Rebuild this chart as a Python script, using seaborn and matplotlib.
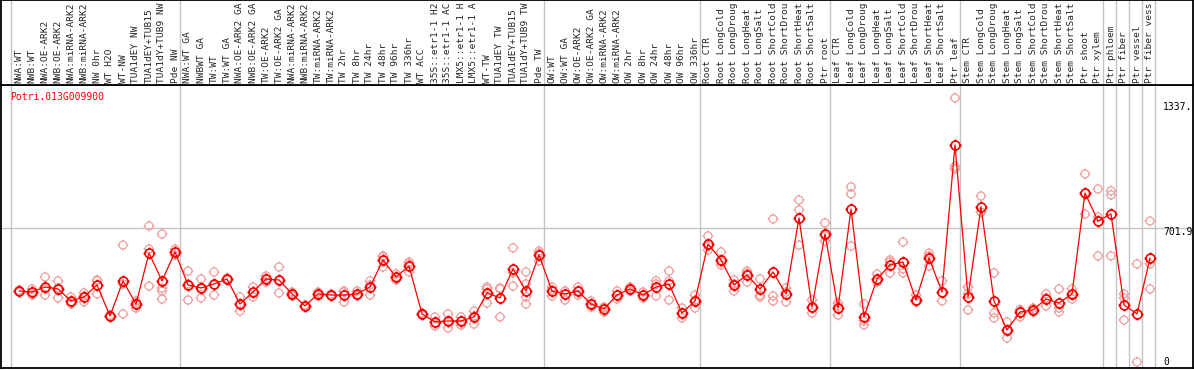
import numpy as np
import pandas as pd
import matplotlib.pyplot as plt
import matplotlib.transforms as mtransforms
from matplotlib.path import Path
import seaborn as sns

# ---- data ----
gene = "Potri.013G009900"

# sample names as the reference prints them (cut to 14 characters)
labels = [
    "NWA:WT", "NWB:WT", "NWA:OE-ARK2", "NWB:OE-ARK2", "NWA:miRNA-ARK2",
    "NWB:miRNA-ARK2", "NW 0hr", "WT H2O", "WT-NW", "TUA1dEY NW",
    "TUA1dEY+TUB15", "TUA1dY+TUB9 NW", "Pde NW",
    "NWA:WT GA", "NWBWT GA", "TW:WT", "TW:WT GA", "NWA:OE-ARK2 GA",
    "NWB:OE-ARK2 GA", "TW:OE-ARK2", "TW:OE-ARK2 GA", "NWA:miRNA-ARK2",
    "NWB:miRNA-ARK2", "TW:miRNA-ARK2", "TW:miRNA-ARK2", "TW 2hr", "TW 8hr",
    "TW 24hr", "TW 48hr", "TW 96hr", "TW 336hr", "WT ACC", "35S::etr1-1 H2",
    "35S::etr1-1 AC", "LMX5::etr1-1 H", "LMX5::etr1-1 A", "WT-TW",
    "TUA1dEY TW", "TUA1dEY+TUB15", "TUA1dY+TUB9 TW", "Pde TW",
    "OW:WT", "OW:WT GA", "OW:OE-ARK2", "OW:OE-ARK2 GA", "OW:miRNA-ARK2",
    "OW:miRNA-ARK2", "OW 2hr", "OW 8hr", "OW 24hr", "OW 48hr", "OW 96hr",
    "OW 336hr",
    "Root CTR", "Root LongCold", "Root LongDroug", "Root LongHeat",
    "Root LongSalt", "Root ShortCold", "Root ShortDrou", "Root ShortHeat",
    "Root ShortSalt", "Ptr root",
    "Leaf CTR", "Leaf LongCold", "Leaf LongDroug", "Leaf LongHeat",
    "Leaf LongSalt", "Leaf ShortCold", "Leaf ShortDrou", "Leaf ShortHeat",
    "Leaf ShortSalt", "Ptr leaf",
    "Stem CTR", "Stem LongCold", "Stem LongDroug", "Stem LongHeat",
    "Stem LongSalt", "Stem ShortCold", "Stem ShortDrou", "Stem ShortHeat",
    "Stem ShortSalt", "Ptr shoot", "Ptr xylem",
    "Ptr phloem", "Ptr fiber", "Ptr vessel", "Ptr fiber vess",
]

# number of samples in each boxed group
group_sizes = [13, 28, 12, 10, 10, 11, 1, 1, 1, 1]

means = [
    372, 367, 393, 383, 320, 341, 404, 241, 425, 304,
    571, 425, 577, 404, 388, 409, 435, 304, 367, 435,
    430, 357, 294, 357, 351, 351, 357, 393, 535, 446,
    503, 252, 210, 215, 215, 236, 362, 336, 488, 372,
    561, 372, 357, 372, 304, 278, 351, 383, 351, 393,
    409, 257, 320, 619, 535, 404, 456, 383, 472, 357,
    755, 288, 671, 283, 802, 236, 435, 509, 524, 325,
    545, 367, 1138, 341, 813, 320, 168, 262, 273, 330,
    309, 357, 886, 739, 776, 299, 252, 545,
]

replicates = [
    [372, 377, 367], [383, 351, 367], [446, 351, 383], [425, 336, 388],
    [341, 304, 315], [362, 315, 346], [425, 357, 430], [241, 246, 236],
    [613, 252, 409], [320, 283, 309],
    [592, 398, 713], [671, 388, 372, 330], [592, 577, 561], [477, 325, 409],
    [435, 336, 393], [472, 351, 404], [435, 430, 440], [341, 267, 304],
    [393, 341, 367], [419, 435, 451],
    [498, 362, 430], [346, 357, 367], [299, 294, 289], [367, 357, 346],
    [351, 346, 356], [372, 315, 367], [372, 346, 352], [425, 351, 404],
    [556, 498, 551], [430, 446, 462],
    [524, 472, 514], [252, 247, 257], [236, 189, 205], [252, 178, 215],
    [236, 194, 215], [267, 199, 241], [393, 309, 383], [388, 236, 383],
    [598, 398, 467], [472, 409, 341, 304],
    [582, 530, 571], [393, 346, 377], [325, 372, 372], [393, 372, 351],
    [320, 304, 288], [288, 262, 283], [372, 330, 351], [393, 383, 372],
    [336, 351, 367], [425, 346, 409],
    [477, 425, 325], [283, 231, 257], [351, 283, 325], [661, 587, 608],
    [577, 509, 524], [430, 372, 409], [477, 419, 466], [435, 351, 341],
    [750, 346, 320], [388, 315, 367],
    [849, 797, 613], [325, 257, 283], [729, 634, 661], [309, 246, 294],
    [918, 881, 608], [304, 194, 215], [461, 419, 430], [535, 467, 524],
    [629, 488, 467], [351, 315, 315],
    [571, 503, 556], [425, 320, 362], [1384, 1012, 1025], [393, 273, 357],
    [870, 786, 786], [467, 257, 231], [210, 126, 168], [273, 236, 273],
    [283, 273, 262], [357, 294, 336],
    [383, 283, 262], [383, 330, 357], [986, 776, 886], [907, 760, 556],
    [897, 876, 556], [357, 336, 220], [514, 0], [739, 514, 383],
]

ytick_vals = [1337, 701.9, 0]
ytick_labels = ["1337.", "701.9", "0"]

# ---- frames ----
df_mean = pd.DataFrame({"pos": np.arange(len(labels)), "value": means})
df_rep = pd.DataFrame(
    [(i, v) for i, vals in enumerate(replicates) for v in vals],
    columns=["pos", "value"],
)

sns.set_style("white")
plt.rcParams["font.family"] = ["DejaVu Sans Mono", "DejaVu Sans"]

# circle with four little ticks, like the reference markers
tick = 1.35
ring = Path.make_compound_path(
    Path.unit_circle(),
    Path([(0, 1), (0, tick), (0, -1), (0, -tick),
          (1, 0), (tick, 0), (-1, 0), (-tick, 0)],
         [Path.MOVETO, Path.LINETO] * 4),
)

W, H = 1194, 370
fig = plt.figure(figsize=(W / 100, H / 100), dpi=100)
ax = fig.add_axes([1 / W, 2 / H, 1192 / W, 283 / H])
hax = fig.add_axes([1 / W, 285 / H, 1192 / W, 85 / H], sharex=ax)

grey = "#c4c4c4"
pink = "#f0a0a0"

# group separators
bounds = np.concatenate([[-0.65], np.cumsum(group_sizes) - 0.6])
for b in bounds:
    ax.axvline(b, color=grey, lw=1.0, zorder=0)
    hax.axvline(b, color=grey, lw=1.0, zorder=0)
ax.axhline(ytick_vals[1], color=grey, lw=1.0, zorder=0)

sns.scatterplot(data=df_rep, x="pos", y="value", ax=ax, marker=ring, s=60,
                facecolors="none", edgecolor=pink, linewidth=0.9, zorder=2,
                legend=False)
sns.lineplot(data=df_mean, x="pos", y="value", ax=ax, color="red", lw=0.9,
             marker=ring, markersize=8.6, markerfacecolor="none",
             markeredgecolor="red", markeredgewidth=1.2, zorder=3)

ax.set_xlim(-18 / 13, 1174 / 13)
ax.set_ylim(-31.5, 1452)
ax.set_xticks([])
ax.set_yticks([])
ax.set_xlabel("")
ax.set_ylabel("")
for s in ax.spines.values():
    s.set_color("black")
    s.set_linewidth(1.3)

for v, t in zip(ytick_vals, ytick_labels):
    off = -3 if t == "701.9" else 0
    ax.annotate(t, (88.0, v), xytext=(0, off), textcoords="offset points",
                ha="left", va="center", fontsize=7, color="black")

ax.text(9 / 1192, 1 - 12 / 283, gene, transform=ax.transAxes, color="red",
        fontsize=7, ha="left", va="center")

# header with rotated sample names
hax.set_ylim(0, 1)
hax.set_yticks([])
hax.tick_params(axis="x", bottom=False, labelbottom=False)
for s in hax.spines.values():
    s.set_color("black")
    s.set_linewidth(1.3)
trans = mtransforms.blended_transform_factory(hax.transData, hax.transAxes)
for i, lab in enumerate(labels):
    hax.text(i, 2 / 85, lab, transform=trans, rotation=90, ha="center",
             va="bottom", fontsize=6.8)

fig.savefig("out.png", dpi=100)
